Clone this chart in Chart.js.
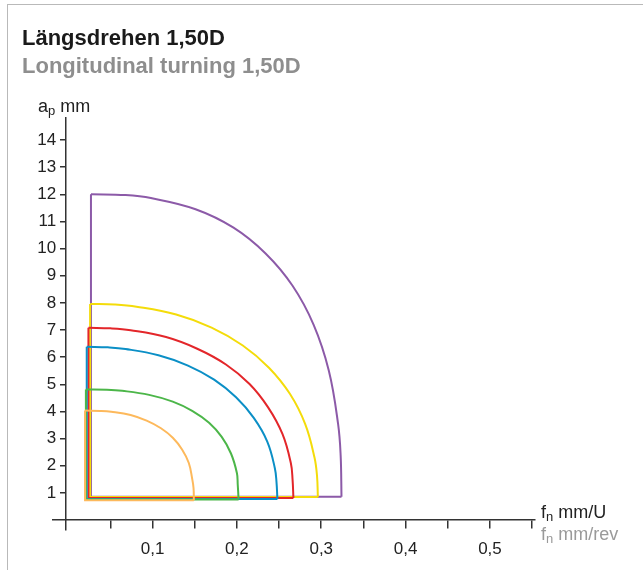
<!DOCTYPE html>
<html>
<head>
<meta charset="utf-8">
<script src="https://cdn.jsdelivr.net/npm/chart.js@4/dist/chart.umd.min.js"></script>
<style>
  body { margin: 0; background: #fff; font-family: "Liberation Sans", Arial, sans-serif; }
  #wrap { position: relative; width: 643px; height: 570px; overflow: hidden; }
  #frame { position: absolute; left: 7px; top: 4px; width: 650px; height: 580px;
           border-top: 1.5px solid #b9b9b9; border-left: 1.5px solid #b9b9b9; }
  canvas { position: absolute; left: 0; top: 0; }
  .txt { position: absolute; white-space: nowrap; }
  .title { left: 22px; top: 25px; font-size: 22px; font-weight: bold; color: #1a1a1a; }
  .sub { left: 22px; top: 53px; font-size: 22px; font-weight: bold; color: #8e8e8e; }
  .ax { font-size: 18px; line-height: 18px; color: #222; }
  .ax sub { font-size: 13px; line-height: 0; vertical-align: -3px; }
  .gray { color: #9a9a9a; }
</style>
</head>
<body>
<div id="wrap">
  <div id="frame"></div>
  <canvas id="myChart" width="643" height="570"></canvas>
  <div class="txt title">Längsdrehen 1,50D</div>
  <div class="txt sub">Longitudinal turning 1,50D</div>
  <div class="txt ax" style="left:38px; top:97px;">a<sub>p</sub> mm</div>
  <div class="txt ax" style="left:541px; top:503px;">f<sub>n</sub> mm/U</div>
  <div class="txt ax gray" style="left:541px; top:525px;">f<sub>n</sub> mm/rev</div>
</div>
<script>
// tick values
var xTicks = [0.05, 0.1, 0.15, 0.2, 0.25, 0.3, 0.35, 0.4, 0.45, 0.5, 0.55];
var yTicks = [1, 2, 3, 4, 5, 6, 7, 8, 9, 10, 11, 12, 13, 14];

// arc points (f_n mm/U, a_p mm)
// first point = top-left corner of the field, last point = where the arc meets the bottom line
var purpleArc = [[0.027, 12.0], [0.068, 11.97], [0.098, 11.86], [0.151, 11.45], [0.196, 10.77],
                 [0.234, 9.82], [0.266, 8.63], [0.291, 7.19], [0.309, 5.50], [0.320, 3.53],
                 [0.323, 2.38], [0.324, 0.86]];
var yellowArc = [[0.026, 7.96], [0.055, 7.94], [0.081, 7.86], [0.128, 7.57], [0.170, 7.09],
                 [0.207, 6.43], [0.238, 5.61], [0.263, 4.64], [0.281, 3.53], [0.292, 2.30],
                 [0.295, 1.62], [0.296, 0.85]];
var redArc    = [[0.024, 7.08], [0.050, 7.06], [0.074, 6.99], [0.116, 6.74], [0.153, 6.31],
                 [0.187, 5.73], [0.215, 5.01], [0.237, 4.15], [0.254, 3.17], [0.264, 2.09],
                 [0.266, 1.49], [0.267, 0.81]];
var blueArc   = [[0.022, 6.38], [0.047, 6.36], [0.068, 6.30], [0.107, 6.07], [0.142, 5.69],
                 [0.173, 5.17], [0.199, 4.52], [0.220, 3.76], [0.236, 2.89], [0.245, 1.91],
                 [0.247, 1.38], [0.248, 0.77]];
var greenArc  = [[0.021, 4.81], [0.046, 4.80], [0.064, 4.76], [0.096, 4.61], [0.124, 4.36],
                 [0.147, 4.02], [0.167, 3.58], [0.182, 3.06], [0.193, 2.45], [0.200, 1.73],
                 [0.201, 1.31], [0.202, 0.76]];
var orangeArc = [[0.020, 4.03], [0.038, 4.02], [0.051, 3.99], [0.074, 3.87], [0.093, 3.66],
                 [0.110, 3.38], [0.124, 3.03], [0.135, 2.60], [0.143, 2.10], [0.147, 1.52],
                 [0.1486, 1.18], [0.149, 0.73]];

var curveArcs   = [purpleArc, yellowArc, redArc, blueArc, greenArc, orangeArc];
var curveColors = ['#8c5aa8', '#f4dc0a', '#e3262a', '#0b8fc6', '#4cb649', '#fdb95c'];

var datasets = [];
curveArcs.forEach(function (arc, i) {
    var first = arc[0], last = arc[arc.length - 1];
    var order = curveArcs.length - i;
    // the smooth arc
    datasets.push({
        data: arc.map(function (p) { return { x: p[0], y: p[1] }; }),
        borderColor: curveColors[i],
        borderWidth: 2,
        tension: 0.4,
        order: order
    });
    // the straight edges: bottom line back to the left edge and up to the arc
    datasets.push({
        data: [{ x: last[0], y: last[1] }, { x: first[0], y: last[1] }, { x: first[0], y: first[1] }],
        borderColor: curveColors[i],
        borderWidth: 2,
        tension: 0,
        order: order
    });
});

var tickFont = { family: '"Liberation Sans", Arial, sans-serif', size: 17 };

var ctx = document.getElementById('myChart').getContext('2d');
var myChart = new Chart(ctx, {
    type: 'scatter',
    data: { datasets: datasets },
    options: {
        responsive: false,
        animation: false,
        showLine: true,
        elements: { point: { radius: 0 }, line: { fill: false } },
        layout: { padding: { left: 53, right: 108, top: 118, bottom: 40 } },
        plugins: { legend: { display: false }, tooltip: { enabled: false } },
        scales: {
            x: {
                type: 'linear',
                min: -0.018,
                max: 0.5534,
                position: { y: 0 },
                afterBuildTicks: function (scale) {
                    scale.ticks = xTicks.map(function (v) { return { value: v }; });
                },
                grid: { drawOnChartArea: false, drawTicks: true, tickLength: 8, color: '#333', lineWidth: 1.5 },
                border: { display: true, color: '#333', width: 1.5 },
                ticks: {
                    color: '#222',
                    font: tickFont,
                    padding: 11,
                    autoSkip: false,
                    maxRotation: 0,
                    callback: function (value) {
                        var tenth = Math.round(value * 10);
                        if (Math.abs(value * 10 - tenth) > 1e-6) return '';
                        return (tenth / 10).toFixed(1).replace('.', ',');
                    }
                }
            },
            y: {
                type: 'linear',
                min: -0.368,
                max: 14.81,
                position: { x: -0.003 },
                afterBuildTicks: function (scale) {
                    scale.ticks = yTicks.map(function (v) { return { value: v }; });
                },
                grid: { drawOnChartArea: false, drawTicks: true, tickLength: 5, color: '#333', lineWidth: 1.5 },
                border: { display: true, color: '#333', width: 1.5 },
                ticks: {
                    color: '#222',
                    font: tickFont,
                    autoSkip: false,
                    // labels sit right-aligned on the axis line, so pad them off it
                    callback: function (value) { return String(value) + '  '; }
                }
            }
        }
    }
});
</script>
</body>
</html>
